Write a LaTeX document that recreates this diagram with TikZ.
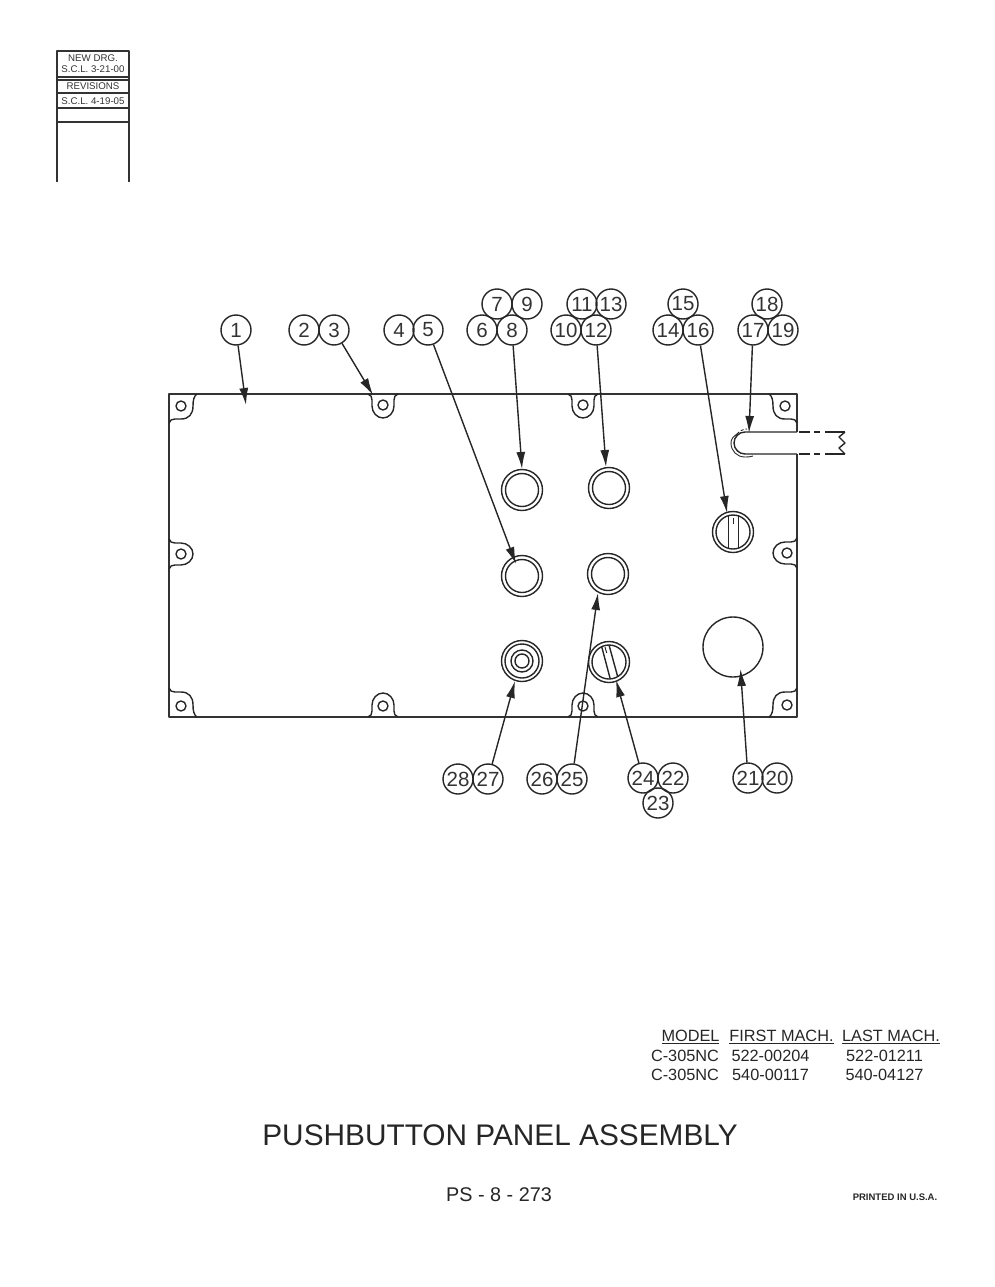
\documentclass[tikz,border=0pt]{standalone}
\usepackage{fontspec}
\setmainfont{Liberation Sans}
\usetikzlibrary{arrows.meta}
\begin{document}
\begin{tikzpicture}[x=1pt,y=-1pt,line join=round]

    \newcommand{\sidelug}[3]{\begin{scope}[shift={(#1,#2)},rotate=#3]
        \draw[part] (-12,-15) .. controls (-11,-12) and (-9,-11) .. (-6,-11) -- (0,-11) .. controls (6.5,-11) and (12,-6) .. (12,0) .. controls (12,6) and (6.5,11) .. (0,11) -- (-6,11) .. controls (-9,11) and (-11,12) .. (-12,15);
    \end{scope}}
    \newcommand{\cornerlug}[4]{\begin{scope}[shift={(#1,#2)},xscale=#3,yscale=#4]
        \draw[part] (16,-12) .. controls (13,-10) and (12,-6) .. (12,0) .. controls (12,8) and (8,13) .. (0,13) -- (-6,13) .. controls (-9,13) and (-11,14) .. (-12,17);
    \end{scope}}

    \tikzstyle{part}=[line width=1.4pt, black!85]
    \tikzstyle{frame}=[line width=1.8pt, black!80]
    \tikzstyle{bnode}=[circle, draw=black!85, line width=1.4pt, minimum size=30pt, inner sep=0pt, font=\fontsize{20.5}{20}\selectfont, text=black!80]
    \tikzstyle{leader}=[line width=1.4pt, black!85, -{Latex[length=17pt,width=9pt]}]
    \tikzstyle{rev}=[inner sep=0pt, font=\fontsize{9.7}{10}\selectfont, text=black!80]
    \tikzstyle{tbl}=[inner sep=0pt, font=\fontsize{16.3}{18}\selectfont, text=black!85]

    \useasboundingbox (0,0) rectangle (995,1287);

    \draw[frame] (57,182) -- (57,51) -- (129,51) -- (129,182);
    \foreach \y in {77, 80, 93, 108, 122} {
        \draw[line width=1.3pt, black!80] (57,\y) -- (129,\y);
    }
    \node[rev] (drg) at (93,58) {NEW DRG.};
    \node[rev] (drgsign) at (93,69) {S.C.L. 3-21-00};
    \node[rev] (revs) at (93,86.5) {REVISIONS};
    \node[rev] (revsign) at (93,101) {S.C.L. 4-19-05};

    \draw[frame] (797,454) -- (797,717) -- (169,717) -- (169,394) -- (797,394) -- (797,432);

    \foreach \x/\y/\sx/\sy in {181/406/1/1, 785/406/-1/1, 181/705/1/-1, 785/705/-1/-1} {
        \cornerlug{\x}{\y}{\sx}{\sy}
    }
    \foreach \x/\y/\r in {383/406/-90, 583/406/-90, 383/705/90, 583/705/90, 181/554/0, 785/553/180} {
        \sidelug{\x}{\y}{\r}
    }
    \foreach \x/\y in {181/406, 785/406, 181/706, 787/705, 383/405, 583/405, 383/706, 583/706, 181/554, 787/553} {
        \draw[part] (\x,\y) circle (5);
    }

    \foreach \x/\y in {522/490, 609/488, 522/576, 608/574} {
        \draw[part] (\x,\y) circle (20.5);
        \draw[part] (\x,\y) circle (16.5);
    }
    \foreach \r in {20.5, 17, 11, 7} {
        \draw[part] (522,661) circle (\r);
    }
    \foreach \x/\y in {733/532, 609/662} {
        \draw[part] (\x,\y) circle (20.5);
        \draw[part] (\x,\y) circle (17);
    }
    \draw[part] (728.3,515) -- (728.3,548) (738.3,515) -- (738.3,548);
    \draw[part, line width=1pt] (733.3,518) -- (733.3,524);
    \draw[part] (601.7,646.7) -- (610,678) (609,645) -- (617.7,676.7);
    \draw[part, line width=1pt] (605,647) -- (606.7,653);
    \draw[part] (733,647) circle (30);

    \draw[part] (797,432) -- (745,432) .. controls (739,432) and (734,437) .. (734,443) .. controls (734,449) and (739,454) .. (745,454) -- (797,454);
    \foreach \y in {432, 454} {
        \draw[part] (799,\y) -- (810,\y) (814,\y) -- (820,\y) (825,\y) -- (845,\y);
    }
    \draw[part] (845,432) -- (839,437) -- (845,443) -- (839,448) -- (845,454);
    \draw[part, line width=0.9pt] (753,456) .. controls (750,457) and (748,457) .. (745,457) .. controls (737,457) and (731,451) .. (731,443) .. controls (731,439) and (733,437) .. (737,434);
    \draw[part, line width=0.9pt, dash pattern=on 3pt off 2pt] (737,434) .. controls (739,432) and (742,429) .. (747,429);

    \foreach \i/\x/\y in {1/236/330, 2/304/330, 3/334/330, 4/399/330, 5/428/330,
        6/482/330, 7/497/304, 8/512/330, 9/527/304, 10/566/330, 11/582/304, 12/596/330, 13/611/304,
        14/668/330, 15/683/304, 16/698/330, 17/753/330, 18/767/304, 19/783/330,
        20/777/778, 21/748/778, 22/673/778, 23/658/803, 24/643/778, 25/572/779, 26/542/779, 27/488/779, 28/458/779} {
        \node[bnode] (b\i) at (\x,\y) {\i};
    }

    \foreach \i/\x/\y in {1/246/405, 3/373/395, 5/516/564, 8/522/469, 12/606/467, 16/727/513, 17/749/433,
        21/740.5/669, 24/616/680, 25/598/593, 27/515/681} {
        \coordinate (t\i) at (\x,\y);
        \draw[leader] (b\i) -- (t\i);
    }

    \node[tbl] (hmodel) at (690.5,1037) {\underline{MODEL}};
    \node[tbl] (hfirst) at (781.5,1037) {\underline{FIRST MACH.}};
    \node[tbl] (hlast) at (891,1037) {\underline{LAST MACH.}};
    \node[tbl] (modela) at (685,1056) {C-305NC};
    \node[tbl] (firsta) at (770.5,1056) {522-00204};
    \node[tbl] (lasta) at (884.5,1056) {522-01211};
    \node[tbl] (modelb) at (685,1075) {C-305NC};
    \node[tbl] (firstb) at (770.5,1075) {540-00117};
    \node[tbl] (lastb) at (884.5,1075) {540-04127};

    \node[inner sep=0pt, font=\fontsize{29.8}{32}\selectfont, text=black!85] (title) at (500,1135) {PUSHBUTTON PANEL ASSEMBLY};
    \node[inner sep=0pt, font=\fontsize{19.8}{22}\selectfont, text=black!85] (drawno) at (499,1195) {PS - 8 - 273};
    \node[inner sep=0pt, font=\bfseries\fontsize{9.5}{10}\selectfont, text=black!85] (printed) at (895,1197) {PRINTED IN U.S.A.};

\end{tikzpicture}
\end{document}
